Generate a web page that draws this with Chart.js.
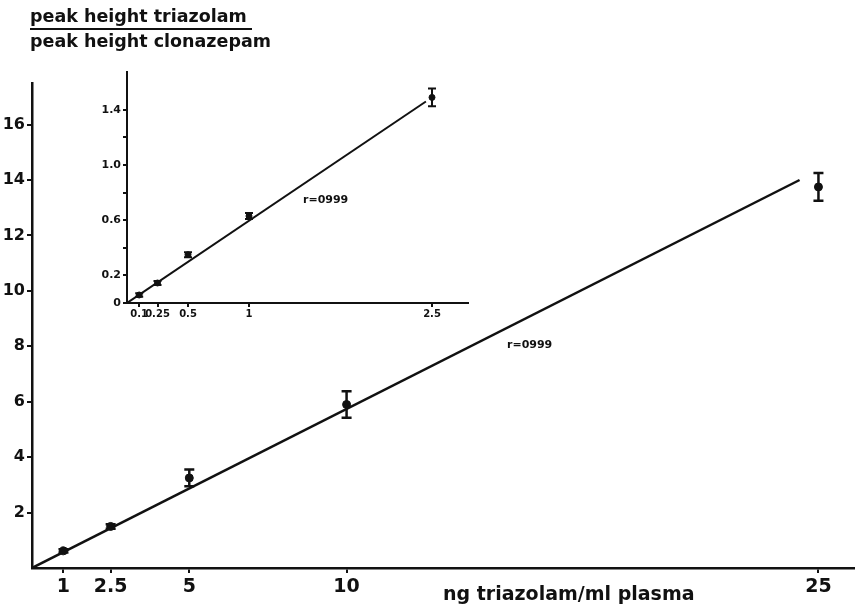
<!DOCTYPE html>
<html>
<head>
<meta charset="utf-8">
<script src="https://cdn.jsdelivr.net/npm/chart.js@4.4.0/dist/chart.umd.min.js"></script>
<style>
body{margin:0;background:#fff;width:859px;height:610px;overflow:hidden;position:relative;
  font-family:"DejaVu Sans",sans-serif;font-weight:bold;color:#111}
#main{position:absolute;left:0;top:0;width:859px;height:610px}
#inset{position:absolute;left:90px;top:60px;width:390px;height:270px}
.lbl{position:absolute;white-space:nowrap;line-height:1}
.bar{position:absolute;left:30px;top:28px;width:222px;height:2px;background:#111}
</style>
</head>
<body>
<canvas id="main" width="859" height="610"></canvas>
<canvas id="inset" width="390" height="270"></canvas>
<div class="lbl" style="left:30px;top:8px;font-size:17.5px">peak height triazolam</div>
<div class="bar"></div>
<div class="lbl" style="left:30px;top:33px;font-size:17.5px">peak height clonazepam</div>
<div class="lbl" style="left:443px;top:584px;font-size:19px">ng triazolam/ml plasma</div>
<div class="lbl" style="left:507px;top:339px;font-size:11px">r=0999</div>
<div class="lbl" style="left:303px;top:194px;font-size:11px">r=0999</div>
<script>
// main calibration curve (ng/ml)
const mainConc = [1, 2.5, 5, 10, 25];
const mainRatio = [0.62, 1.5, 3.25, 5.9, 13.75];
const mainErr = [0.06, 0.08, 0.3, 0.48, 0.5];
const mainFitX = [0, 24.4];
const mainFitY = [0, 14.0];
const mainXTicks = [1, 2.5, 5, 10, 25];
const mainYTicks = [2, 4, 6, 8, 10, 12, 14, 16];

// inset, low range
const insetConc = [0.1, 0.25, 0.5, 1, 2.5];
const insetRatio = [0.058, 0.145, 0.35, 0.63, 1.49];
const insetErr = [0.012, 0.015, 0.018, 0.022, 0.065];
const insetFitX = [0, 2.45];
const insetFitY = [0, 1.46];
const insetXTicks = [0.1, 0.25, 0.5, 1, 2.5];
const insetYTicks = [0, 0.2, 0.4, 0.6, 0.8, 1.0, 1.2, 1.4];
const insetYLabels = ['0', '0.2', '', '0.6', '', '1.0', '', '1.4'];

const ink = '#111';

const errorBars = {
    id: 'errorBars',
    afterDatasetsDraw(chart, args, o) {
        const {ctx, scales: {x, y}} = chart;
        ctx.save();
        ctx.strokeStyle = ink;
        ctx.lineWidth = o.width;
        o.xs.forEach((v, i) => {
            const px = x.getPixelForValue(v);
            const top = y.getPixelForValue(o.ys[i] + o.errs[i]);
            const bot = y.getPixelForValue(o.ys[i] - o.errs[i]);
            ctx.beginPath();
            ctx.moveTo(px, top); ctx.lineTo(px, bot);
            ctx.moveTo(px - o.cap, top); ctx.lineTo(px + o.cap, top);
            ctx.moveTo(px - o.cap, bot); ctx.lineTo(px + o.cap, bot);
            ctx.stroke();
        });
        ctx.restore();
    }
};

function makeChart(id, c) {
    const pts = c.xs.map((v, i) => ({x: v, y: c.ys[i]}));
    const fit = c.fitX.map((v, i) => ({x: v, y: c.fitY[i]}));
    return new Chart(document.getElementById(id), {
        type: 'scatter',
        data: {
            datasets: [
                {data: fit, showLine: true, borderColor: ink, borderWidth: c.lineW, pointRadius: 0},
                {data: pts, pointRadius: c.pointR, backgroundColor: ink, borderColor: ink}
            ]
        },
        options: {
            responsive: false,
            animation: false,
            layout: {padding: c.pad},
            plugins: {
                legend: {display: false},
                tooltip: {enabled: false},
                errorBars: {xs: c.xs, ys: c.ys, errs: c.errs, cap: c.cap, width: c.lineW}
            },
            scales: {
                x: {
                    type: 'linear', min: 0, max: c.xMax,
                    afterBuildTicks: s => { s.ticks = c.xTicks.map(v => ({value: v})); },
                    afterFit: s => { s.height = c.xH; },
                    ticks: {autoSkip: false, maxRotation: 0, color: ink, padding: c.xPad,
                        font: {family: 'DejaVu Sans', weight: 'bold', size: c.xFont},
                        callback: v => String(v)},
                    grid: {drawOnChartArea: false, tickLength: c.tick, color: ink, lineWidth: 2},
                    border: {color: ink, width: c.axisW}
                },
                y: {
                    min: 0, max: c.yMax,
                    afterBuildTicks: s => { s.ticks = c.yTicks.map(v => ({value: v})); },
                    afterFit: s => { s.width = c.yW; },
                    ticks: {autoSkip: false, color: ink, padding: 2,
                        font: {family: 'DejaVu Sans', weight: 'bold', size: c.yFont},
                        callback: (v, i) => c.yLabels ? c.yLabels[i] : String(v)},
                    grid: {drawOnChartArea: false, tickLength: c.tick, color: ink, lineWidth: 2},
                    border: {color: ink, width: c.axisW}
                }
            }
        },
        plugins: [errorBars]
    });
}

makeChart('main', {
    xs: mainConc, ys: mainRatio, errs: mainErr, fitX: mainFitX, fitY: mainFitY,
    xTicks: mainXTicks, yTicks: mainYTicks,
    xMax: 26.13, yMax: 17.5,
    pad: {left: 0, top: 83, right: 4, bottom: 0},
    xH: 42, yW: 32, xFont: 19, yFont: 16, xPad: 3, tick: 5,
    lineW: 2.5, axisW: 2.5, pointR: 4, cap: 5
});

makeChart('inset', {
    xs: insetConc, ys: insetRatio, errs: insetErr, fitX: insetFitX, fitY: insetFitY,
    xTicks: insetXTicks, yTicks: insetYTicks, yLabels: insetYLabels,
    xMax: 2.795, yMax: 1.674,
    pad: {left: 0, top: 12, right: 12, bottom: 0},
    xH: 27, yW: 37, xFont: 10, yFont: 11, xPad: 1, tick: 4,
    lineW: 2, axisW: 2, pointR: 3, cap: 4
});
</script>
</body>
</html>
